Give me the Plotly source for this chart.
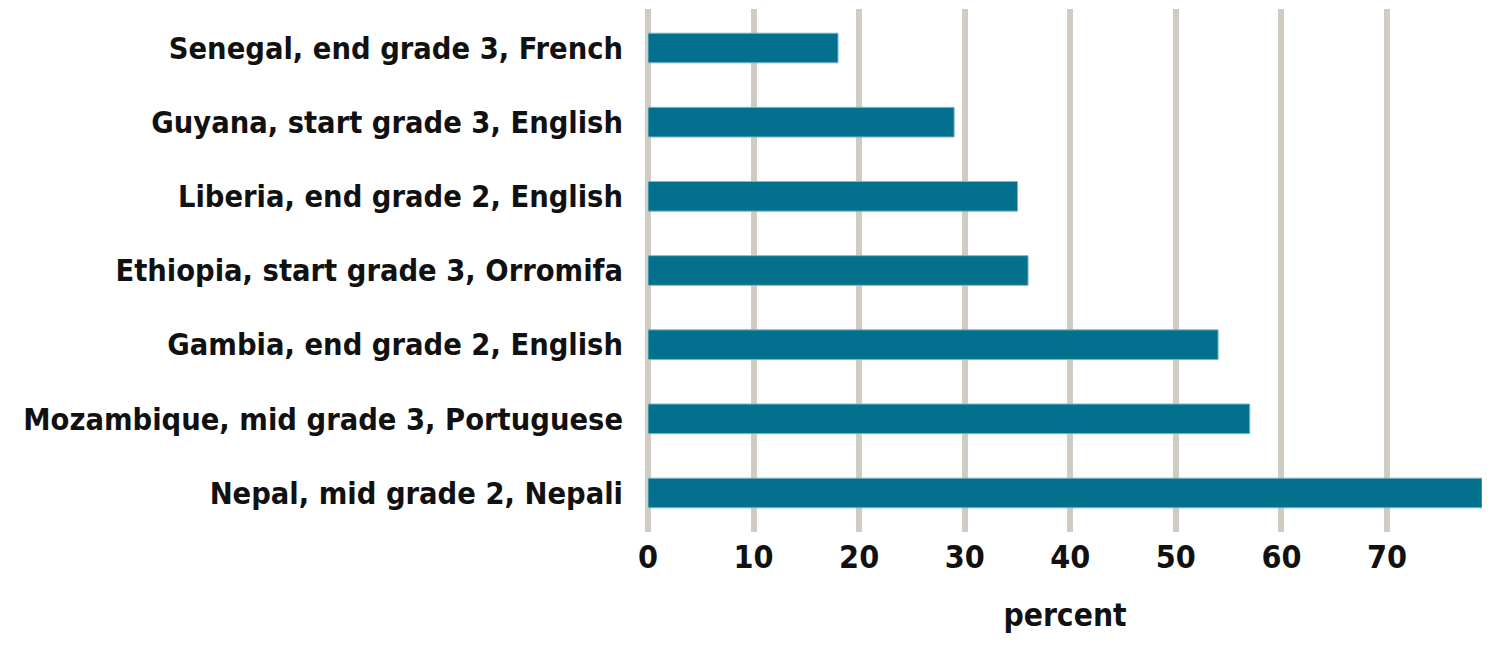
import plotly.graph_objects as go

categories = [
    "Senegal, end grade 3, French",
    "Guyana, start grade 3, English",
    "Liberia, end grade 2, English",
    "Ethiopia, start grade 3, Orromifa",
    "Gambia, end grade 2, English",
    "Mozambique, mid grade 3, Portuguese",
    "Nepal, mid grade 2, Nepali",
]
values = [18, 29, 35, 36, 54, 57, 79]
x_ticks = [0, 10, 20, 30, 40, 50, 60, 70]

FONT = "Liberation Sans Narrow, DejaVu Sans Condensed, Open Sans, sans-serif"
BAR = "#03708E"
GRID = "#D0CCC1"

fig = go.Figure(
    go.Bar(
        x=values,
        y=categories,
        orientation="h",
        width=0.4,
        marker=dict(color=BAR, line=dict(color="#7FB7C7", width=1)),
    )
)

fig.update_layout(
    width=1500,
    height=645,
    margin=dict(l=640, r=26, t=1, b=121),
    paper_bgcolor="white",
    plot_bgcolor="white",
    showlegend=False,
    font=dict(family=FONT, size=32, color="#111111", weight="bold"),
    xaxis=dict(
        range=[0, 79],
        tickvals=x_ticks,
        showgrid=True,
        gridcolor=GRID,
        gridwidth=6,
        zeroline=True,
        zerolinecolor=GRID,
        zerolinewidth=6,
        showline=False,
        ticks="",
        automargin=False,
        ticklabelstandoff=3,
        tickfont=dict(family=FONT, size=32, weight="bold"),
        title=dict(text="percent", font=dict(family=FONT, size=31.5, weight="bold"), standoff=28),
    ),
    yaxis=dict(
        type="category",
        categoryorder="array",
        categoryarray=categories,
        range=[6.526, -0.526],
        showgrid=False,
        zeroline=False,
        showline=False,
        ticks="",
        automargin=False,
        ticklabelstandoff=24,
        tickfont=dict(family=FONT, size=30.5, weight="bold"),
    ),
)

fig.write_html("out.html")
